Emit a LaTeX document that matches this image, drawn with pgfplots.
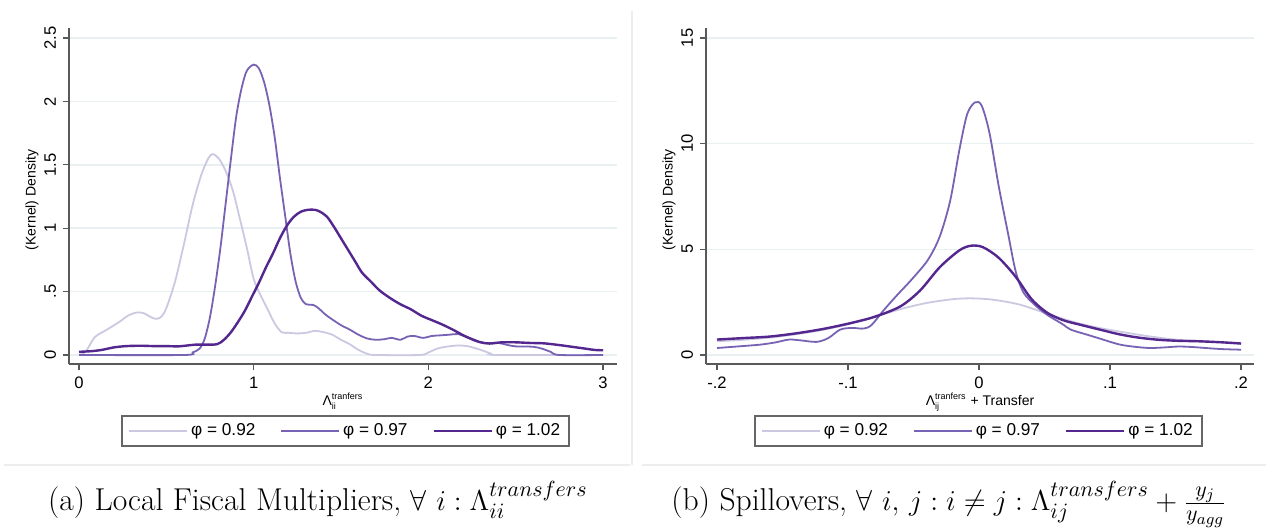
\documentclass[border=0pt]{standalone}
\usepackage{fontspec}
\usepackage{pgfplots}
\pgfplotsset{compat=1.18}
\newfontfamily\stata{Liberation Sans}

\definecolor{cA}{HTML}{CBC9E2}
\definecolor{cB}{HTML}{7862B4}
\definecolor{cC}{HTML}{54278F}
\definecolor{gridc}{HTML}{E8F0F1}
\definecolor{framec}{HTML}{EDEDED}

% Lambda with stacked sub/superscript, Stata style
\newcommand{\lam}[1]{Λ\(_{\mbox{\fontsize{4.5}{5}\selectfont #1}}^{\mbox{\fontsize{4.5}{5}\selectfont tranfers}}\)}

\pgfplotsset{
  stata/.style={
    scale only axis, width=274pt, height=168pt,
    axis lines*=left,
    axis line style={black!65, line width=0.6pt},
    tick align=outside, major tick length=3pt,
    tick style={black!65, line width=0.6pt},
    ymajorgrids, major grid style={gridc, line width=0.7pt},
    ticklabel style={font=\stata\fontsize{8.3}{9}\selectfont},
    yticklabel style={rotate=90, anchor=south},
    label style={font=\stata\fontsize{7}{8.5}\selectfont},
    legend columns=3,
    legend style={draw=black!60, line width=0.9pt, anchor=center,
      font=\stata\fontsize{8.6}{9.5}\selectfont,
      inner xsep=3pt, inner ysep=1.8pt,
      nodes={inner xsep=1.5pt, inner ysep=2pt},
      /tikz/every even column/.append style={column sep=11pt}},
    legend image code/.code={\draw[#1] (0,0)--(29pt,0);},
    every axis plot/.append style={smooth, no markers},
  },
  sA/.style={cA, line width=0.9pt},
  sB/.style={cB, line width=0.9pt},
  sC/.style={cC, line width=1.2pt},
}

\begin{document}
\begin{tikzpicture}
\useasboundingbox (0,0) rectangle (633pt,264.5pt);
\fill[white] (0,0) rectangle (633pt,264.5pt);
\draw[framec, line width=0.6pt] (316pt,259pt) -- (316pt,32pt);
\draw[framec, line width=0.6pt] (2pt,32pt) -- (315pt,32pt);
\draw[framec, line width=0.6pt] (321pt,32pt) -- (633pt,32pt);

% ---------- panel (a)
\begin{axis}[stata,
  at={(34.5pt,82.5pt)}, anchor=south west,
  xmin=-0.0573, xmax=3.08, ymin=-0.071, ymax=2.579,
  xtick={0,1,2,3}, xticklabels={0,1,2,3},
  ytick={0,0.5,1,1.5,2,2.5}, yticklabels={0,.5,1,1.5,2,2.5},
  xlabel={\lam{ii}},
  xlabel style={at={(axis description cs:0.5,-0.125)}, anchor=base},
  ylabel={(Kernel) Density},
  ylabel style={at={(axis description cs:-0.0675,0.488)}, anchor=center, rotate=0},
  legend style={at={(0.505,-0.2)}},
]
\addplot[sA] coordinates {(0.0,0.0) (0.04,0.03) (0.09,0.14) (0.16,0.2) (0.23,0.26)
  (0.28,0.31) (0.33,0.335) (0.37,0.33) (0.41,0.3) (0.44,0.285) (0.47,0.3) (0.5,0.37)
  (0.55,0.58) (0.6,0.87) (0.65,1.18) (0.7,1.42) (0.74,1.55) (0.765,1.585) (0.8,1.55)
  (0.84,1.45) (0.88,1.3) (0.92,1.08) (0.96,0.85) (1.0,0.6) (1.04,0.47) (1.08,0.36)
  (1.12,0.25) (1.16,0.18) (1.2,0.175) (1.25,0.17) (1.3,0.175) (1.35,0.19) (1.4,0.18)
  (1.45,0.16) (1.5,0.12) (1.55,0.085) (1.6,0.04) (1.65,0.01) (1.7,0) (1.95,0) (2.0,0.02)
  (2.05,0.05) (2.1,0.065) (2.17,0.075) (2.23,0.068) (2.3,0.04) (2.36,0.01) (2.4,0) (3.0,0)};
\addlegendentry{φ = 0.92}
\addplot[sB] coordinates {(0,0) (0.6,0) (0.65,0.02) (0.69,0.05) (0.72,0.13) (0.75,0.3)
  (0.78,0.55) (0.81,0.85) (0.84,1.2) (0.87,1.55) (0.9,1.88) (0.93,2.1) (0.96,2.24)
  (1.0,2.29) (1.03,2.26) (1.06,2.15) (1.09,1.97) (1.12,1.72) (1.15,1.4) (1.18,1.1)
  (1.21,0.8) (1.24,0.58) (1.27,0.45) (1.3,0.4) (1.34,0.395) (1.37,0.37) (1.41,0.32)
  (1.45,0.28) (1.5,0.235) (1.55,0.2) (1.6,0.16) (1.65,0.13) (1.7,0.12) (1.75,0.125)
  (1.79,0.135) (1.84,0.12) (1.88,0.145) (1.92,0.15) (1.97,0.135) (2.02,0.15) (2.07,0.155)
  (2.12,0.16) (2.17,0.165) (2.22,0.14) (2.27,0.11) (2.32,0.095) (2.4,0.095) (2.45,0.08)
  (2.5,0.068) (2.6,0.065) (2.65,0.05) (2.7,0.025) (2.75,0.0) (3.0,0)};
\addlegendentry{φ = 0.97}
\addplot[sC] coordinates {(0,0.025) (0.07,0.03) (0.13,0.04) (0.2,0.06) (0.27,0.07)
  (0.35,0.073) (0.43,0.07) (0.5,0.07) (0.57,0.068) (0.62,0.075) (0.67,0.082) (0.72,0.082)
  (0.79,0.085) (0.83,0.12) (0.87,0.18) (0.91,0.26) (0.95,0.35) (0.99,0.46) (1.03,0.57)
  (1.07,0.69) (1.11,0.8) (1.15,0.92) (1.19,1.02) (1.23,1.09) (1.27,1.13) (1.31,1.145)
  (1.35,1.145) (1.38,1.13) (1.42,1.09) (1.46,1.01) (1.5,0.92) (1.54,0.83) (1.58,0.74)
  (1.62,0.65) (1.67,0.58) (1.72,0.51) (1.78,0.45) (1.84,0.4) (1.9,0.36) (1.96,0.31)
  (2.02,0.275) (2.08,0.24) (2.14,0.2) (2.2,0.155) (2.25,0.125) (2.3,0.1) (2.35,0.09)
  (2.42,0.1) (2.5,0.1) (2.58,0.095) (2.66,0.092) (2.74,0.08) (2.82,0.065) (2.9,0.05)
  (2.95,0.04) (3.0,0.037)};
\addlegendentry{φ = 1.02}
\end{axis}

% ---------- panel (b)
\begin{axis}[stata,
  at={(353pt,82.5pt)}, anchor=south west,
  xmin=-0.2084, xmax=0.2099, ymin=-0.426, ymax=15.47,
  xtick={-0.2,-0.1,0,0.1,0.2}, xticklabels={-.2,-.1,0,.1,.2},
  ytick={0,5,10,15}, yticklabels={0,5,10,15},
  xlabel={\lam{ij} + Transfer},
  xlabel style={at={(axis description cs:0.5,-0.125)}, anchor=base},
  ylabel={(Kernel) Density},
  ylabel style={at={(axis description cs:-0.0675,0.488)}, anchor=center, rotate=0},
  legend style={at={(0.497,-0.2)}},
]
\addplot[sA] coordinates {(-0.2,0.65) (-0.18,0.72) (-0.16,0.82) (-0.14,0.98) (-0.12,1.18)
  (-0.1,1.45) (-0.08,1.8) (-0.06,2.17) (-0.04,2.46) (-0.02,2.64) (-0.006,2.68) (0.01,2.62)
  (0.03,2.4) (0.05,2.0) (0.07,1.6) (0.09,1.3) (0.11,1.08) (0.13,0.88) (0.15,0.73)
  (0.17,0.65) (0.2,0.57)};
\addlegendentry{φ = 0.92}
\addplot[sB] coordinates {(-0.2,0.33) (-0.185,0.4) (-0.167,0.49) (-0.155,0.6) (-0.145,0.73)
  (-0.136,0.69) (-0.124,0.62) (-0.115,0.8) (-0.106,1.2) (-0.097,1.28) (-0.088,1.25)
  (-0.082,1.42) (-0.073,2.1) (-0.063,2.8) (-0.051,3.6) (-0.039,4.5) (-0.03,5.6)
  (-0.022,7.3) (-0.015,9.7) (-0.009,11.4) (-0.003,11.95) (0.002,11.8) (0.008,10.5)
  (0.015,8.0) (0.022,5.8) (0.028,3.95) (0.034,2.95) (0.043,2.35) (0.052,1.9) (0.064,1.45)
  (0.07,1.2) (0.082,0.97) (0.091,0.8) (0.107,0.5) (0.12,0.38) (0.131,0.33) (0.142,0.36)
  (0.152,0.4) (0.162,0.38) (0.173,0.33) (0.185,0.28) (0.2,0.25)};
\addlegendentry{φ = 0.97}
\addplot[sC] coordinates {(-0.2,0.73) (-0.18,0.8) (-0.16,0.87) (-0.14,1.02) (-0.12,1.22)
  (-0.1,1.48) (-0.08,1.8) (-0.06,2.3) (-0.045,3.05) (-0.03,4.15) (-0.015,4.95)
  (-0.006,5.17) (0.003,5.1) (0.015,4.6) (0.028,3.7) (0.04,2.65) (0.052,2.0) (0.064,1.65)
  (0.076,1.45) (0.091,1.22) (0.107,0.98) (0.122,0.82) (0.137,0.72) (0.152,0.67)
  (0.167,0.65) (0.185,0.6) (0.2,0.54)};
\addlegendentry{φ = 1.02}
\end{axis}

% ---------- captions
\node[anchor=base, font=\fontsize{15.8}{18}\selectfont] at (159pt,9pt)
  {(a) Local Fiscal Multipliers, $\forall\ i : \Lambda_{ii}^{transfers}$};
\node[anchor=base, font=\fontsize{15.8}{18}\selectfont] at (474.5pt,9pt)
  {(b) Spillovers, $\forall\ i,\,j : i \neq j : \Lambda_{ij}^{transfers} + \frac{y_j}{y_{agg}}$};
\end{tikzpicture}
\end{document}
